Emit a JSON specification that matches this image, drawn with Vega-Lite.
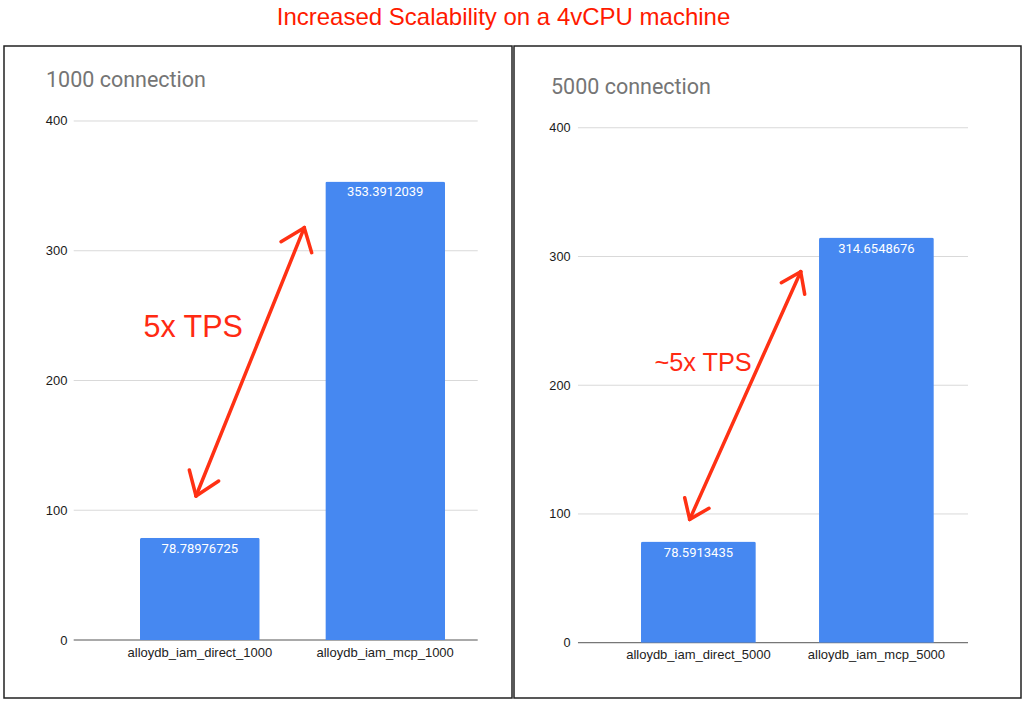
{
  "$schema": "https://vega.github.io/schema/vega-lite/v6.json",
  "background": "white",
  "padding": {"left": 3, "top": 6, "right": 6, "bottom": 6},
  "title": {"text": "Increased Scalability on a 4vCPU machine", "color": "#ff1a00", "font": "Liberation Sans", "fontSize": 24, "fontWeight": "normal", "anchor": "middle", "offset": 15, "dx": -9},
  "config": {
    "view": {"stroke": "#222222", "strokeWidth": 1.5},
    "concat": {"spacing": 0}
  },
  "datasets": {
    "bars1": [
      {"name": "alloydb_iam_direct_1000", "tps": 78.78976725},
      {"name": "alloydb_iam_mcp_1000", "tps": 353.3912039}
    ],
    "bars2": [
      {"name": "alloydb_iam_direct_5000", "tps": 78.5913435},
      {"name": "alloydb_iam_mcp_5000", "tps": 314.6548676}
    ],
    "grid": [{"v": 0}, {"v": 100}, {"v": 200}, {"v": 300}, {"v": 400}],
    "arrow1": [
      {"x": 0.378, "y": 111.0, "x2": 0.5911, "y2": 317.8},
      {"x": 0.5911, "y": 317.8, "x2": 0.5453, "y2": 307.0},
      {"x": 0.5911, "y": 317.8, "x2": 0.6057, "y2": 298.5},
      {"x": 0.378, "y": 111.0, "x2": 0.3648, "y2": 131.0},
      {"x": 0.378, "y": 111.0, "x2": 0.4226, "y2": 122.5}
    ],
    "arrow2": [
      {"x": 0.3465, "y": 95.8, "x2": 0.5655, "y2": 288.2},
      {"x": 0.5655, "y": 288.2, "x2": 0.5272, "y2": 279.6},
      {"x": 0.5655, "y": 288.2, "x2": 0.5734, "y2": 270.6},
      {"x": 0.3465, "y": 95.8, "x2": 0.3367, "y2": 112.6},
      {"x": 0.3465, "y": 95.8, "x2": 0.3846, "y2": 104.4}
    ],
    "note1": [{"label": "5x TPS", "x": 0.3724, "y": 240.7}],
    "note2": [{"label": "~5x TPS", "x": 0.3728, "y": 217.6}]
  },
  "hconcat": [
    {
      "width": 508,
      "height": 652,
      "title": {"text": "1000 connection", "anchor": "start", "frame": "group", "offset": -62, "dx": 42, "fontSize": 21.5, "color": "#757575", "font": "Roboto", "fontWeight": "normal", "baseline": "alphabetic"},
      "resolve": {"scale": {"x": "independent"}, "axis": {"x": "independent"}},
      "layer": [
        {
          "data": {"name": "grid"},
          "mark": {"type": "rule", "strokeWidth": 1},
          "encoding": {
            "x": {"datum": 0.1372, "type": "quantitative", "scale": {"domain": [0, 1], "nice": false, "zero": false}, "axis": null},
            "x2": {"datum": 0.9325},
            "y": {"field": "v", "type": "quantitative", "scale": {"domain": [-44.7, 457.8], "nice": false, "zero": false}},
            "stroke": {"condition": {"test": "datum.v === 0", "value": "#555555"}, "value": "#d9d9d9"}
          }
        },
        {
          "data": {"name": "bars1"},
          "mark": {"type": "bar", "color": "#4688f1", "cornerRadiusTopLeft": 2, "cornerRadiusTopRight": 2},
          "encoding": {
            "x": {"field": "name", "type": "nominal", "sort": null, "scale": {"type": "band", "paddingInner": 0.354, "paddingOuter": 0.5477, "align": 0.67},
                  "axis": {"title": null, "orient": "bottom", "offset": -52, "ticks": false, "domain": false, "labelPadding": 0, "labelAngle": 0, "labelFont": "Liberation Sans", "labelFontSize": 13, "labelColor": "#222222"}},
            "y": {"field": "tps", "type": "quantitative", "scale": {"domain": [-44.7, 457.8], "nice": false, "zero": false},
                  "axis": {"title": null, "values": [0, 100, 200, 300, 400], "offset": -63, "ticks": false, "domain": false, "grid": false, "labelPadding": 0, "labelFont": "Liberation Sans", "labelFontSize": 13, "labelColor": "#1a1a1a", "labelFlush": false, "labelOverlap": false}}
          }
        },
        {
          "data": {"name": "bars1"},
          "mark": {"type": "text", "color": "white", "font": "Roboto", "fontSize": 13, "baseline": "middle", "align": "center", "dy": 11},
          "encoding": {
            "x": {"field": "name", "type": "nominal", "sort": null, "scale": {"type": "band", "paddingInner": 0.354, "paddingOuter": 0.5477, "align": 0.67}, "axis": null},
            "y": {"field": "tps", "type": "quantitative", "scale": {"domain": [-44.7, 457.8], "nice": false, "zero": false}},
            "text": {"field": "tps", "type": "nominal"}
          }
        },
        {
          "data": {"name": "arrow1"},
          "mark": {"type": "rule", "color": "#ff3114", "strokeWidth": 3.5, "strokeCap": "round"},
          "encoding": {
            "x": {"field": "x", "type": "quantitative", "scale": {"domain": [0, 1], "nice": false, "zero": false}, "axis": null},
            "x2": {"field": "x2"},
            "y": {"field": "y", "type": "quantitative", "scale": {"domain": [-44.7, 457.8], "nice": false, "zero": false}},
            "y2": {"field": "y2"}
          }
        },
        {
          "data": {"name": "note1"},
          "mark": {"type": "text", "color": "#ff2a12", "font": "Liberation Sans", "fontSize": 30.5, "baseline": "middle", "align": "center"},
          "encoding": {
            "x": {"field": "x", "type": "quantitative", "scale": {"domain": [0, 1], "nice": false, "zero": false}, "axis": null},
            "y": {"field": "y", "type": "quantitative", "scale": {"domain": [-44.7, 457.8], "nice": false, "zero": false}},
            "text": {"field": "label"}
          }
        }
      ]
    },
    {
      "width": 507,
      "height": 652,
      "title": {"text": "5000 connection", "anchor": "start", "frame": "group", "offset": -69, "dx": 37, "fontSize": 21.5, "color": "#757575", "font": "Roboto", "fontWeight": "normal", "baseline": "alphabetic"},
      "resolve": {"scale": {"x": "independent"}, "axis": {"x": "independent"}},
      "layer": [
        {
          "data": {"name": "grid"},
          "mark": {"type": "rule", "strokeWidth": 1},
          "encoding": {
            "x": {"datum": 0.1262, "type": "quantitative", "scale": {"domain": [0, 1], "nice": false, "zero": false}, "axis": null},
            "x2": {"datum": 0.8955},
            "y": {"field": "v", "type": "quantitative", "scale": {"domain": [-42.95, 463.5], "nice": false, "zero": false}},
            "stroke": {"condition": {"test": "datum.v === 0", "value": "#555555"}, "value": "#d9d9d9"}
          }
        },
        {
          "data": {"name": "bars2"},
          "mark": {"type": "bar", "color": "#4688f1", "cornerRadiusTopLeft": 2, "cornerRadiusTopRight": 2},
          "encoding": {
            "x": {"field": "name", "type": "nominal", "sort": null, "scale": {"type": "band", "paddingInner": 0.355, "paddingOuter": 0.6016, "align": 0.593},
                  "axis": {"title": null, "orient": "bottom", "offset": -50, "ticks": false, "domain": false, "labelPadding": 0, "labelAngle": 0, "labelFont": "Liberation Sans", "labelFontSize": 13, "labelColor": "#222222"}},
            "y": {"field": "tps", "type": "quantitative", "scale": {"domain": [-42.95, 463.5], "nice": false, "zero": false},
                  "axis": {"title": null, "values": [0, 100, 200, 300, 400], "offset": -56, "ticks": false, "domain": false, "grid": false, "labelPadding": 0, "labelFont": "Liberation Sans", "labelFontSize": 12.7, "labelColor": "#1a1a1a", "labelFlush": false, "labelOverlap": false}}
          }
        },
        {
          "data": {"name": "bars2"},
          "mark": {"type": "text", "color": "white", "font": "Roboto", "fontSize": 13, "baseline": "middle", "align": "center", "dy": 11},
          "encoding": {
            "x": {"field": "name", "type": "nominal", "sort": null, "scale": {"type": "band", "paddingInner": 0.355, "paddingOuter": 0.6016, "align": 0.593}, "axis": null},
            "y": {"field": "tps", "type": "quantitative", "scale": {"domain": [-42.95, 463.5], "nice": false, "zero": false}},
            "text": {"field": "tps", "type": "nominal"}
          }
        },
        {
          "data": {"name": "arrow2"},
          "mark": {"type": "rule", "color": "#ff3114", "strokeWidth": 3.5, "strokeCap": "round"},
          "encoding": {
            "x": {"field": "x", "type": "quantitative", "scale": {"domain": [0, 1], "nice": false, "zero": false}, "axis": null},
            "x2": {"field": "x2"},
            "y": {"field": "y", "type": "quantitative", "scale": {"domain": [-42.95, 463.5], "nice": false, "zero": false}},
            "y2": {"field": "y2"}
          }
        },
        {
          "data": {"name": "note2"},
          "mark": {"type": "text", "color": "#ff2a12", "font": "Liberation Sans", "fontSize": 25.3, "baseline": "middle", "align": "center"},
          "encoding": {
            "x": {"field": "x", "type": "quantitative", "scale": {"domain": [0, 1], "nice": false, "zero": false}, "axis": null},
            "y": {"field": "y", "type": "quantitative", "scale": {"domain": [-42.95, 463.5], "nice": false, "zero": false}},
            "text": {"field": "label"}
          }
        }
      ]
    }
  ]
}
